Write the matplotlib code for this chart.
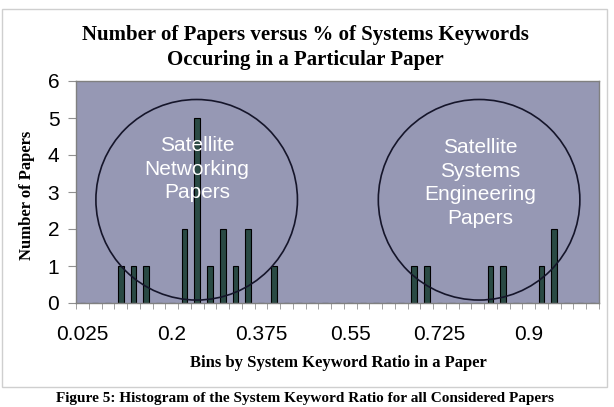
"""
Histogram of papers by share of systems keywords (Excel-style column chart).
"""

import numpy as np
import matplotlib.pyplot as plt
from matplotlib.patches import Ellipse, Rectangle

# bins of 0.025 from 0.025 to 1.025
bins = np.round(np.arange(1, 42) * 0.025, 3)
counts = [0, 0, 0, 1, 1, 1, 0, 0, 2, 5,
          1, 2, 1, 2, 0, 1, 0, 0, 0, 0,
          0, 0, 0, 0, 0, 0, 1, 1, 0, 0,
          0, 0, 1, 1, 0, 0, 1, 2, 0, 0,
          0]
label_every = 7

groups = ['Satellite\nNetworking\nPapers',
          'Satellite\nSystems\nEngineering\nPapers']

W, H = 614, 407
fig = plt.figure(figsize=(W / 100, H / 100), dpi=100)

def fx(px):
    return px / W

def fy(py):
    return 1 - py / H

serif = dict(family='Liberation Serif', fontweight='bold')
sans = 'Liberation Sans'

# chart frame
fig.patches.append(Rectangle((fx(2), fy(387)), fx(605), (387 - 9) / H,
                             transform=fig.transFigure, fill=False,
                             edgecolor='#cfcfcf', lw=1.0))

ax = fig.add_axes([fx(76), fy(303), 523 / W, 222 / H])
ax.set_facecolor('#9698b4')

x = np.arange(len(bins))
ax.bar(x, counts, width=0.45, color='#2a4a44', edgecolor='black', lw=0.8,
       zorder=2)

ax.set_xlim(-0.5, len(bins) - 0.5)
ax.set_ylim(0, 6)

ax.set_xticks(x[::label_every])
ax.set_xticklabels([f'{b:g}' for b in bins[::label_every]])
ax.set_xticks(np.arange(-0.5, len(bins), 1), minor=True)
ax.tick_params(axis='x', which='major', length=0, pad=16, labelsize=15)
ax.tick_params(axis='x', which='minor', length=4, color='#909090',
               direction='out')
for t in ax.get_xticklabels():
    t.set_family(sans)

ax.set_yticks(range(7))
ax.tick_params(axis='y', length=6, color='#909090', pad=6, labelsize=15)
for t in ax.get_yticklabels():
    t.set_family(sans)

for s in ax.spines.values():
    s.set_color('#808080')
    s.set_linewidth(1.0)

# circled groups
circle_kw = dict(fill=False, edgecolor='#15152a', lw=1.2, zorder=3)
ax.add_patch(Ellipse((8.96, 2.79), 15.8, 5.42, **circle_kw))
ax.add_patch(Ellipse((31.1, 2.79), 15.8, 5.42, **circle_kw))

ax.text(9.0, 3.62, groups[0], color='white', ha='center', va='center',
        fontsize=15, family=sans, linespacing=1.3, zorder=4)
ax.text(31.2, 3.24, groups[1], color='white', ha='center', va='center',
        fontsize=15, family=sans, linespacing=1.3, zorder=4)

fig.text(fx(305), fy(47.5),
         'Number of Papers versus % of Systems Keywords\n'
         'Occuring in a Particular Paper',
         ha='center', va='center', fontsize=15, linespacing=1.3, **serif)
fig.text(fx(27), fy(195), 'Number of Papers', rotation=90,
         ha='center', va='center', fontsize=12, **serif)
fig.text(fx(338), fy(363), 'Bins by System Keyword Ratio in a Paper',
         ha='center', va='center', fontsize=12, **serif)
fig.text(fx(305), fy(405),
         'Figure 5: Histogram of the System Keyword Ratio for all '
         'Considered Papers',
         ha='center', va='bottom', fontsize=11, **serif)

fig.savefig('out.png', dpi=100)
